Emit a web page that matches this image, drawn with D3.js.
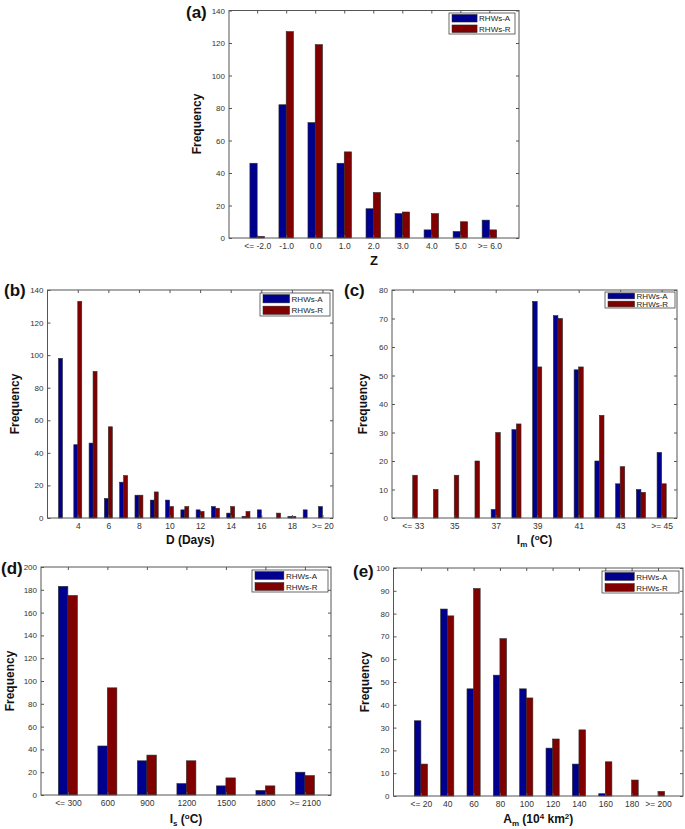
<!DOCTYPE html>
<html><head><meta charset="utf-8">
<script src="https://cdn.jsdelivr.net/npm/d3@7"></script>
<style>
body{margin:0;background:#fff;}
svg{display:block;font-family:"Liberation Sans",Arial,Helvetica,sans-serif;}
</style></head>
<body><svg id="c" width="685" height="829"></svg>
<script>
// ---------- data ----------
const seriesNames = ["RHWs-A", "RHWs-R"];

const zCats = ["<= -2.0","-1.0","0.0","1.0","2.0","3.0","4.0","5.0",">= 6.0"];
const zA = [46, 82, 71, 46, 18, 15, 5, 4, 11];
const zR = [1, 127, 119, 53, 28, 16, 15, 10, 5];
const zTickLabels = zCats;

const dCats = ["3","4","5","6","7","8","9","10","11","12","13","14","15","16","17","18","19",">= 20"];
const dA = [98, 45, 46, 12, 22, 14, 11, 11, 5, 5, 7, 3, 1, 5, 0, 1, 5, 7];
const dR = [0, 133, 90, 56, 26, 14, 16, 7, 7, 4, 6, 7, 4, 0, 3, 1, 0, 0];
const dTickLabels = ["4","6","8","10","12","14","16","18",">= 20"];

const imCats = ["<= 33","34","35","36","37","38","39","40","41","42","43","44",">= 45"];
const imA = [0, 0, 0, 0, 3, 31, 76, 71, 52, 20, 12, 10, 23];
const imR = [15, 10, 15, 20, 30, 33, 53, 70, 53, 36, 18, 9, 12];
const imTickLabels = ["<= 33","35","37","39","41","43",">= 45"];

const isCats = ["<= 300","600","900","1200","1500","1800",">= 2100"];
const isA = [183, 43, 30, 10, 8, 4, 20];
const isR = [175, 94, 35, 30, 15, 8, 17];
const isTickLabels = isCats;

const amCats = ["<= 20","40","60","80","100","120","140","160","180",">= 200"];
const amA = [33, 82, 47, 53, 47, 21, 14, 1, 0, 0];
const amR = [14, 79, 91, 69, 43, 25, 29, 15, 7, 2];
const amTickLabels = amCats;

const yMaxes = {a:140, b:140, c:80, d:200, e:100};
const yStepsArr = {a:20, b:20, c:10, d:20, e:10};

// ---------- layout ----------
const colors = ["#00008F", "#800000"];
const svg = d3.select("#c");

const panels = [
  {id:"a", cats:zCats, A:zA, R:zR, ticks:zTickLabels, x0:229, x1:519, y0:10.5, y1:238, padL:0.97, padR:1.02,
   bw:0.25, label:[186,18], ylab:[201,124], xlab:{y:265, size:13, parts:[["Z",0]]},
   leg:{x:449, y:13, w:66, h:21}},
  {id:"b", cats:dCats, A:dA, R:dR, ticks:dTickLabels, x0:47.5, x1:333, y0:290, y1:518, padL:0.98, padR:0.69,
   bw:0.26, label:[4,296], ylab:[19,404], xlab:{y:544, size:12, parts:[["D (Days)",0]]},
   leg:{x:260, y:293, w:70, h:23}},
  {id:"c", cats:imCats, A:imA, R:imR, ticks:imTickLabels, x0:392, x1:677, y0:290, y1:518, padL:1.0, padR:0.74,
   bw:0.22, label:[344,296], ylab:[367,404], xlab:{y:544, size:12, parts:[["I",0],["m",1],[" (",0],["o",2],["C)",0]]},
   leg:{x:605, y:292, w:70, h:16}},
  {id:"d", cats:isCats, A:isA, R:isR, ticks:isTickLabels, x0:41, x1:331, y0:567, y1:795, padL:0.68, padR:0.66,
   bw:0.24, label:[1,574], ylab:[14,681], xlab:{y:823, size:12, parts:[["I",0],["s",1],[" (",0],["o",2],["C)",0]]},
   leg:{x:252, y:570, w:76, h:22}},
  {id:"e", cats:amCats, A:amA, R:amR, ticks:amTickLabels, x0:393.5, x1:683, y0:568, y1:796, padL:1.04, padR:0.95,
   bw:0.25, label:[353,577], ylab:[369,682], xlab:{y:823, size:12, parts:[["A",0],["m",1],[" (10",0],["4",2],[" km",0],["2",2],[")",0]]},
   leg:{x:602, y:571, w:77, h:22}}
];

panels.forEach(p => {
  const n = p.cats.length;
  const x = d3.scaleLinear().domain([-p.padL, n - 1 + p.padR]).range([p.x0, p.x1]);
  const y = d3.scaleLinear().domain([0, yMaxes[p.id]]).range([p.y1, p.y0]);
  const g = svg.append("g");
  const yTicks = d3.range(0, yMaxes[p.id] + 0.001, yStepsArr[p.id]);

  // bars
  const series = [p.A, p.R];
  series.forEach((vals, s) => {
    g.append("g").selectAll("rect").data(vals).join("rect")
      .attr("x", (v, i) => s === 0 ? x(i - p.bw) : x(i))
      .attr("width", x(p.bw) - x(0))
      .attr("y", v => y(v))
      .attr("height", v => y(0) - y(v))
      .attr("fill", colors[s])
      .attr("stroke", "#2a2a2a")
      .attr("stroke-width", 0.6);
  });

  // y axis left
  const yl = g.append("g").attr("transform", `translate(${p.x0},0)`)
    .call(d3.axisLeft(y).tickValues(yTicks).tickSize(-3).tickPadding(4).tickFormat(d3.format("d")));
  yl.select(".domain").remove();
  yl.selectAll("line").attr("stroke", "#555");
  yl.selectAll("text").attr("font-size", 8).attr("fill", "#333");
  // y axis right (ticks only)
  const yr = g.append("g").attr("transform", `translate(${p.x1},0)`)
    .call(d3.axisRight(y).tickValues(yTicks).tickSize(-3).tickFormat(""));
  yr.select(".domain").remove();
  yr.selectAll("line").attr("stroke", "#555");

  // x axis
  const tickIdx = p.ticks.map(t => p.cats.indexOf(t));
  const xb = g.append("g").attr("transform", `translate(0,${p.y1})`)
    .call(d3.axisBottom(x).tickValues(tickIdx).tickSize(-3).tickPadding(5).tickFormat(i => p.cats[i]));
  xb.select(".domain").remove();
  xb.selectAll("line").attr("stroke", "#555");
  xb.selectAll("text").attr("font-size", 8.5).attr("fill", "#333");
  const xt = g.append("g").attr("transform", `translate(0,${p.y0})`)
    .call(d3.axisTop(x).tickValues(tickIdx).tickSize(-3).tickFormat(""));
  xt.select(".domain").remove();
  xt.selectAll("line").attr("stroke", "#555");

  // frame
  g.append("rect").attr("x", p.x0).attr("y", p.y0).attr("width", p.x1 - p.x0).attr("height", p.y1 - p.y0)
    .attr("fill", "none").attr("stroke", "#555").attr("stroke-width", 1);

  // legend
  const L = p.leg;
  const lg = g.append("g");
  lg.append("rect").attr("x", L.x).attr("y", L.y).attr("width", L.w).attr("height", L.h)
    .attr("fill", "#fff").attr("stroke", "#444").attr("stroke-width", 0.8);
  const rowH = L.h / 2;
  seriesNames.forEach((nm, s) => {
    const cy = L.y + rowH * (s + 0.5);
    lg.append("rect").attr("x", L.x + 3).attr("y", cy - rowH * 0.36).attr("width", L.w * 0.38).attr("height", rowH * 0.72)
      .attr("fill", colors[s]).attr("stroke", "#2a2a2a").attr("stroke-width", 0.5);
    lg.append("text").attr("x", L.x + 5 + L.w * 0.38).attr("y", cy + 3).attr("font-size", 8).attr("fill", "#222").text(nm);
  });

  // panel label
  g.append("text").attr("x", p.label[0]).attr("y", p.label[1]).attr("font-size", 17).attr("font-weight", "bold")
    .attr("fill", "#111").text(`(${p.id})`);

  // y label
  g.append("text").attr("transform", `translate(${p.ylab[0]},${p.ylab[1]}) rotate(-90)`)
    .attr("text-anchor", "middle").attr("font-size", 12).attr("font-weight", "bold").attr("fill", "#111").text("Frequency");

  // x label
  const xl = g.append("text").attr("x", (p.x0 + p.x1) / 2).attr("y", p.xlab.y)
    .attr("text-anchor", "middle").attr("font-size", p.xlab.size).attr("font-weight", "bold").attr("fill", "#111");
  let shift = 0;
  p.xlab.parts.forEach(([t, k]) => {
    const ts = xl.append("tspan").text(t);
    const target = k === 1 ? 3 : (k === 2 ? -4 : 0);
    ts.attr("dy", target - shift);
    shift = target;
    if (k) ts.attr("font-size", 8);
  });
});
</script></body></html>
